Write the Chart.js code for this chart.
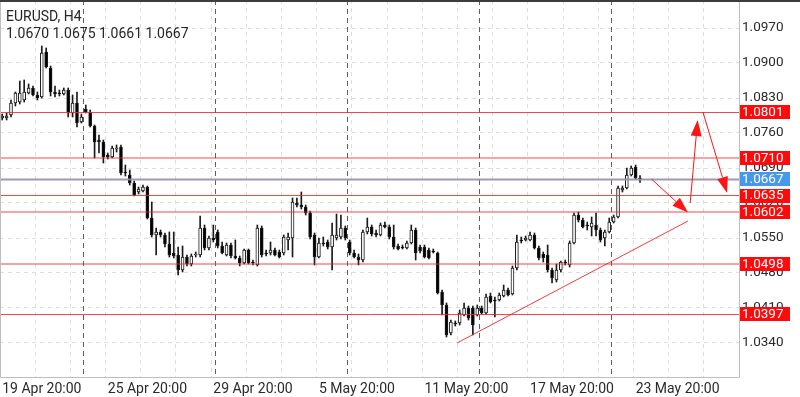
<!DOCTYPE html>
<html><head><meta charset="utf-8">
<script src="https://cdn.jsdelivr.net/npm/chart.js@4.4.0/dist/chart.umd.min.js"></script>
<style>html,body{margin:0;padding:0;background:#fff;}#wrap{width:800px;height:397px;}</style>
</head><body><div id="wrap"><canvas id="c" width="800" height="397"></canvas></div>
<script>
const openP = [
1.0790,1.0790,1.0796,1.0820,1.0822,1.0826,1.0840,1.0850,1.0836,1.0832,
1.0922,1.0890,1.0842,1.0840,1.0838,1.0846,1.0800,1.0820,1.0782,1.0808,
1.0802,1.0774,1.0746,1.0742,1.0716,1.0712,1.0728,1.0732,1.0682,1.0676,
1.0660,1.0642,1.0644,1.0652,1.0590,1.0556,1.0562,1.0556,1.0538,1.0520,
1.0516,1.0486,1.0512,1.0498,1.0516,1.0516,1.0570,1.0530,1.0550,1.0562,
1.0534,1.0516,1.0536,1.0514,1.0510,1.0500,1.0526,1.0502,1.0496,1.0570,
1.0520,1.0520,1.0526,1.0522,1.0520,1.0546,1.0550,1.0620,1.0616,1.0612,
1.0600,1.0556,1.0512,1.0540,1.0542,1.0532,1.0550,1.0552,1.0570,1.0542,
1.0520,1.0512,1.0506,1.0562,1.0572,1.0560,1.0556,1.0576,1.0572,1.0552,
1.0534,1.0532,1.0530,1.0540,1.0566,1.0532,1.0532,1.0526,1.0524,1.0520,
1.0442,1.0416,1.0360,1.0380,1.0380,1.0396,1.0410,1.0410,1.0396,1.0410,
1.0400,1.0434,1.0426,1.0426,1.0434,1.0446,1.0438,1.0490,1.0546,1.0546,
1.0546,1.0556,1.0530,1.0518,1.0516,1.0486,1.0466,1.0486,1.0502,1.0496,
1.0540,1.0596,1.0586,1.0576,1.0572,1.0576,1.0566,1.0550,1.0562,1.0582,
1.0592,1.0646,1.0650,1.0676,1.0692,1.0670];
const highP = [
1.0798,1.0800,1.0826,1.0842,1.0864,1.0866,1.0858,1.0854,1.0842,1.0934,
1.0930,1.0894,1.0854,1.0846,1.0850,1.0850,1.0836,1.0842,1.0798,1.0816,
1.0806,1.0776,1.0756,1.0746,1.0720,1.0734,1.0736,1.0736,1.0696,1.0686,
1.0664,1.0652,1.0656,1.0654,1.0622,1.0570,1.0566,1.0560,1.0562,1.0562,
1.0532,1.0534,1.0516,1.0518,1.0522,1.0594,1.0576,1.0554,1.0576,1.0566,
1.0542,1.0540,1.0540,1.0546,1.0514,1.0528,1.0528,1.0506,1.0576,1.0574,
1.0526,1.0542,1.0530,1.0526,1.0556,1.0560,1.0630,1.0630,1.0642,1.0616,
1.0604,1.0560,1.0550,1.0552,1.0546,1.0580,1.0598,1.0596,1.0574,1.0546,
1.0526,1.0518,1.0566,1.0590,1.0576,1.0566,1.0580,1.0582,1.0576,1.0576,
1.0538,1.0536,1.0544,1.0576,1.0570,1.0536,1.0536,1.0530,1.0528,1.0522,
1.0446,1.0420,1.0386,1.0384,1.0406,1.0420,1.0414,1.0414,1.0416,1.0414,
1.0438,1.0440,1.0432,1.0440,1.0456,1.0450,1.0494,1.0556,1.0552,1.0554,
1.0562,1.0560,1.0534,1.0522,1.0536,1.0490,1.0498,1.0504,1.0506,1.0544,
1.0600,1.0602,1.0590,1.0582,1.0592,1.0600,1.0570,1.0566,1.0590,1.0596,
1.0654,1.0654,1.0690,1.0694,1.0696,1.0675];
const lowP = [
1.0786,1.0786,1.0792,1.0814,1.0818,1.0822,1.0838,1.0834,1.0826,1.0830,
1.0890,1.0834,1.0832,1.0834,1.0836,1.0792,1.0792,1.0772,1.0780,1.0800,
1.0772,1.0710,1.0720,1.0700,1.0708,1.0710,1.0722,1.0676,1.0674,1.0656,
1.0634,1.0638,1.0642,1.0588,1.0552,1.0516,1.0552,1.0532,1.0512,1.0510,
1.0476,1.0482,1.0494,1.0494,1.0512,1.0512,1.0526,1.0526,1.0542,1.0530,
1.0518,1.0514,1.0510,1.0508,1.0494,1.0498,1.0498,1.0496,1.0494,1.0512,
1.0514,1.0516,1.0514,1.0510,1.0516,1.0526,1.0512,1.0612,1.0608,1.0596,
1.0548,1.0496,1.0510,1.0534,1.0528,1.0486,1.0546,1.0548,1.0546,1.0516,
1.0510,1.0496,1.0502,1.0558,1.0554,1.0552,1.0554,1.0570,1.0548,1.0528,
1.0526,1.0528,1.0528,1.0538,1.0506,1.0520,1.0510,1.0508,1.0520,1.0438,
1.0396,1.0352,1.0356,1.0374,1.0376,1.0394,1.0386,1.0356,1.0394,1.0398,
1.0398,1.0420,1.0392,1.0424,1.0432,1.0434,1.0436,1.0486,1.0540,1.0544,
1.0544,1.0528,1.0506,1.0502,1.0482,1.0460,1.0462,1.0482,1.0496,1.0492,
1.0538,1.0582,1.0570,1.0566,1.0554,1.0554,1.0542,1.0534,1.0560,1.0580,
1.0590,1.0642,1.0648,1.0674,1.0668,1.0661];
const closeP = [
1.0794,1.0794,1.0820,1.0840,1.0840,1.0842,1.0850,1.0836,1.0830,1.0920,
1.0892,1.0842,1.0838,1.0838,1.0846,1.0800,1.0820,1.0780,1.0792,1.0802,
1.0774,1.0742,1.0742,1.0712,1.0712,1.0730,1.0730,1.0680,1.0680,1.0660,
1.0636,1.0648,1.0652,1.0590,1.0556,1.0562,1.0556,1.0538,1.0516,1.0514,
1.0486,1.0512,1.0498,1.0514,1.0518,1.0570,1.0530,1.0550,1.0546,1.0534,
1.0520,1.0536,1.0514,1.0510,1.0500,1.0526,1.0500,1.0500,1.0570,1.0516,
1.0518,1.0526,1.0516,1.0512,1.0552,1.0552,1.0622,1.0616,1.0612,1.0600,
1.0552,1.0512,1.0540,1.0538,1.0532,1.0556,1.0556,1.0570,1.0550,1.0520,
1.0512,1.0506,1.0562,1.0572,1.0558,1.0556,1.0576,1.0572,1.0552,1.0532,
1.0528,1.0530,1.0540,1.0566,1.0520,1.0524,1.0512,1.0510,1.0522,1.0440,
1.0416,1.0356,1.0382,1.0378,1.0400,1.0410,1.0390,1.0376,1.0410,1.0400,
1.0432,1.0422,1.0424,1.0436,1.0446,1.0436,1.0490,1.0542,1.0544,1.0550,
1.0556,1.0530,1.0510,1.0510,1.0486,1.0470,1.0486,1.0502,1.0500,1.0540,
1.0596,1.0586,1.0572,1.0574,1.0580,1.0566,1.0546,1.0562,1.0582,1.0592,
1.0650,1.0650,1.0676,1.0690,1.0670,1.0667];

const slotCount = 168;
const tickIndex = [0, 24, 48, 72, 96, 120, 144];
const tickText = ['19 Apr 20:00', '25 Apr 20:00', '29 Apr 20:00', '5 May 20:00', '11 May 20:00', '17 May 20:00', '23 May 20:00'];
const weekStart = [19, 49, 79, 109, 139];
const priceTicks = [1.0340, 1.0410, 1.0480, 1.0550, 1.0620, 1.0690, 1.0760, 1.0830, 1.0900, 1.0970];
const levels = [1.0801, 1.0710, 1.0635, 1.0602, 1.0498, 1.0397];
const lastPrice = 1.0667;
const symbolText = 'EURUSD, H4';
const ohlcText = '1.0670 1.0675 1.0661 1.0667';
const trendLine = [[103.4, 1.0340], [155.9, 1.0584]];
const arrows = [
  [[147.6, 1.0668], [155.9, 1.0601]],
  [[156.4, 1.0620], [158.1, 1.0786]],
  [[159.3, 1.0802], [164.8, 1.0640]]
];
const yMin = 1.0272, yMax = 1.1026;

const labels = Array.from({length: slotCount}, (_, i) => {
  const k = tickIndex.indexOf(i);
  return k >= 0 ? tickText[k] : '';
});
const bodies = openP.map((o, i) => [o, closeP[i]]);
const wicks = lowP.map((l, i) => [l, highP[i]]);
const bodyColors = openP.map((o, i) => closeP[i] >= o ? '#ffffff' : '#000000');

const RED = 'rgb(255,20,20)';
const FONT = 'Roboto, "Noto Sans", sans-serif';

function pxX(chart, v) {
  const s = chart.scales.x;
  const x0 = s.getPixelForValue(0), step = s.getPixelForValue(1) - x0;
  return x0 + v * step;
}

const deco = {
  id: 'deco',
  beforeDatasetsDraw(chart) {
    const ctx = chart.ctx, a = chart.chartArea, ys = chart.scales.y;
    ctx.save();
    ctx.lineWidth = 1;
    ctx.strokeStyle = 'rgb(222,222,222)';
    ctx.setLineDash([4, 4]);
    priceTicks.forEach(v => {
      const y = Math.floor(ys.getPixelForValue(v)) + 0.5;
      ctx.beginPath(); ctx.moveTo(a.left, y); ctx.lineTo(a.right, y); ctx.stroke();
    });
    for (let k = 1; 8 * k - 0.5 < slotCount; k++) {
      const x = Math.floor(pxX(chart, 8 * k - 0.5)) + 0.5;
      if (x >= a.right) break;
      ctx.beginPath(); ctx.moveTo(x, a.top); ctx.lineTo(x, a.bottom); ctx.stroke();
    }
    ctx.strokeStyle = 'rgb(95,95,95)';
    ctx.setLineDash([5, 4]);
    weekStart.forEach(i => {
      const x = Math.floor(pxX(chart, i - 0.5)) + 0.5;
      ctx.beginPath(); ctx.moveTo(x, a.top); ctx.lineTo(x, a.bottom); ctx.stroke();
    });
    ctx.restore();
  },
  afterDatasetsDraw(chart) {
    const ctx = chart.ctx, a = chart.chartArea, ys = chart.scales.y;
    ctx.save();
    ctx.lineWidth = 1;
    ctx.strokeStyle = 'rgba(240,40,40,0.85)';
    levels.forEach(v => {
      const y = ys.getPixelForValue(v);
      ctx.beginPath(); ctx.moveTo(a.left, y); ctx.lineTo(a.right, y); ctx.stroke();
    });
    ctx.strokeStyle = 'rgba(150,140,175,0.9)';
    ctx.lineWidth = 2;
    const yb = ys.getPixelForValue(lastPrice);
    ctx.beginPath(); ctx.moveTo(a.left, yb); ctx.lineTo(a.right, yb); ctx.stroke();
    ctx.lineWidth = 1;
    ctx.strokeStyle = 'rgba(240,40,40,0.9)';
    ctx.beginPath();
    ctx.moveTo(pxX(chart, trendLine[0][0]), ys.getPixelForValue(trendLine[0][1]));
    ctx.lineTo(pxX(chart, trendLine[1][0]), ys.getPixelForValue(trendLine[1][1]));
    ctx.stroke();
    arrows.forEach(([p, q]) => {
      const x1 = pxX(chart, p[0]), y1 = ys.getPixelForValue(p[1]);
      const x2 = pxX(chart, q[0]), y2 = ys.getPixelForValue(q[1]);
      const ang = Math.atan2(y2 - y1, x2 - x1);
      const L = 16, W = 5.5;
      const bx = x2 - L * Math.cos(ang), by = y2 - L * Math.sin(ang);
      ctx.strokeStyle = RED; ctx.lineWidth = 1;
      ctx.beginPath(); ctx.moveTo(x1, y1); ctx.lineTo(bx, by); ctx.stroke();
      ctx.fillStyle = RED;
      ctx.beginPath();
      ctx.moveTo(x2, y2);
      ctx.lineTo(bx + W * Math.sin(ang), by - W * Math.cos(ang));
      ctx.lineTo(bx - W * Math.sin(ang), by + W * Math.cos(ang));
      ctx.closePath(); ctx.fill();
    });
    ctx.restore();
  },
  afterDraw(chart) {
    const ctx = chart.ctx, a = chart.chartArea, ys = chart.scales.y;
    ctx.save();
    ctx.strokeStyle = 'rgb(190,190,190)';
    ctx.lineWidth = 1;
    ctx.beginPath();
    ctx.moveTo(a.left + 0.5, a.top); ctx.lineTo(a.left + 0.5, a.bottom + 0.5);
    ctx.lineTo(a.right + 0.5, a.bottom + 0.5); ctx.lineTo(a.right + 0.5, a.top);
    ctx.stroke();
    ctx.fillStyle = 'rgb(60,60,60)';
    ctx.fillRect(0, 0, 800, 2);
    ctx.font = '13.5px ' + FONT;
    ctx.textBaseline = 'middle';
    ctx.textAlign = 'left';
    const tag = (v, col) => {
      const y = ys.getPixelForValue(v);
      ctx.fillStyle = col;
      ctx.fillRect(a.right + 1, Math.round(y - 7), 50, 14);
      ctx.fillStyle = '#ffffff';
      ctx.fillText(v.toFixed(4), a.right + 3, y + 0.5);
    };
    levels.forEach(v => tag(v, 'rgb(255,10,10)'));
    tag(lastPrice, 'rgb(70,152,238)');
    ctx.fillStyle = '#262626';
    ctx.font = '14px ' + FONT;
    ctx.fillText(symbolText, 6, 17);
    ctx.fillText(ohlcText, 6, 34);
    ctx.restore();
  }
};

new Chart(document.getElementById('c'), {
  type: 'bar',
  data: {
    labels: labels,
    datasets: [
      { data: bodies, backgroundColor: bodyColors, borderColor: '#1a1a1a', borderWidth: 1,
        borderSkipped: false, barThickness: 3, minBarLength: 1, grouped: false, order: 0 },
      { data: wicks, backgroundColor: '#1a1a1a', borderWidth: 0,
        barThickness: 1, grouped: false, order: 1 }
    ]
  },
  options: {
    responsive: false, animation: false, devicePixelRatio: 1,
    layout: { padding: 0 },
    plugins: { legend: { display: false }, tooltip: { enabled: false } },
    scales: {
      x: {
        type: 'category', offset: true,
        grid: { display: false, drawTicks: false }, border: { display: false },
        ticks: { autoSkip: false, maxRotation: 0, minRotation: 0, align: 'start', padding: 4,
          color: '#2a2a2a', font: { family: FONT, size: 14 } },
        afterFit: s => { s.height = 20; s.paddingLeft = 0; s.paddingRight = 0; }
      },
      y: {
        position: 'right', min: yMin, max: yMax,
        grid: { display: false, drawTicks: false }, border: { display: false },
        afterBuildTicks: s => { s.ticks = priceTicks.map(v => ({ value: v })); },
        ticks: { padding: 3, color: '#2a2a2a', font: { family: FONT, size: 13.5 },
          callback: v => Number(v).toFixed(4) },
        afterFit: s => { s.width = 61; s.paddingTop = 0; s.paddingBottom = 0; }
      }
    }
  },
  plugins: [deco]
});
</script>
</body></html>
